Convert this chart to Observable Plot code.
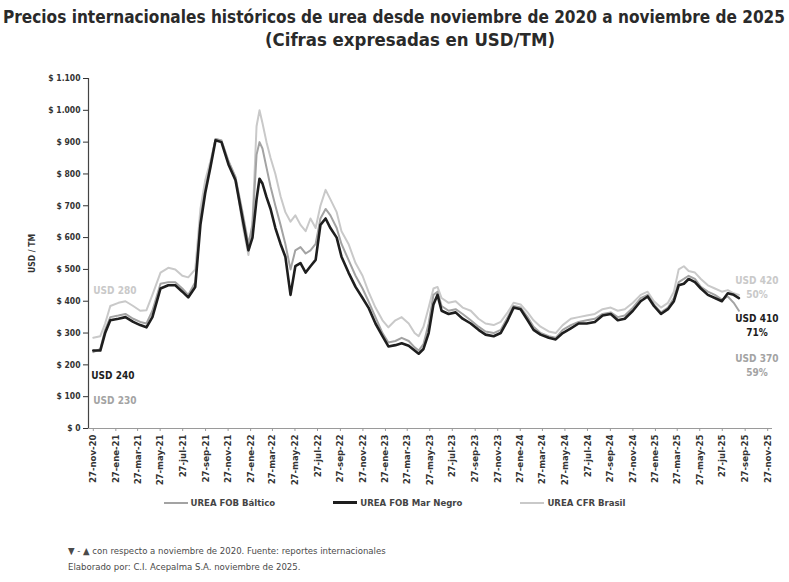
<!DOCTYPE html>
<html><head><meta charset="utf-8">
<script src="https://cdn.jsdelivr.net/npm/d3@7"></script>
<script src="https://cdn.jsdelivr.net/npm/@observablehq/plot@0.6"></script>
<style>
body{margin:0;width:789px;height:582px;overflow:hidden;background:#fff;position:relative;font-family:"Liberation Sans Narrow","DejaVu Sans Condensed","Liberation Sans",sans-serif;}
.abs{position:absolute;white-space:nowrap;}
#title{top:6px;left:394px;font-weight:bold;font-size:18px;line-height:22px;color:#2a2a2a;transform-origin:center;}
#subtitle{top:29px;left:410px;font-weight:bold;font-size:17px;line-height:22px;color:#2a2a2a;transform-origin:center;}
#chart{position:absolute;top:60px;left:0;}
#legend{top:497px;left:0;width:789px;display:flex;justify-content:center;gap:58px;font-size:9.5px;font-weight:bold;color:#444;}
#legend .item{display:flex;align-items:center;gap:3px;}
#legend .sw{width:24px;height:0;border-top-style:solid;}
#footer{top:543px;left:68px;font-size:9.5px;line-height:16px;color:#4a4a4a;}
</style></head><body>
<div id="title" class="abs"></div>
<div id="subtitle" class="abs"></div>
<div id="chart"></div>
<div id="legend" class="abs"></div>
<div id="footer" class="abs"></div>
<script>
const titulo = "Precios internacionales históricos de urea desde noviembre de 2020 a noviembre de 2025";
const subtitulo = "(Cifras expresadas en USD/TM)";
const notaFuente = "▼ - ▲ con respecto a noviembre de 2020. Fuente: reportes internacionales";
const notaElaborado = "Elaborado por: C.I. Acepalma S.A. noviembre de 2025.";
const ejeY = "USD / TM";

const fechas = ["2020-11-27","2020-12-16","2020-12-29","2021-01-12","2021-02-03","2021-02-22","2021-03-15","2021-04-03","2021-04-20","2021-05-06",
"2021-05-28","2021-06-18","2021-07-07","2021-07-26","2021-08-11","2021-08-30","2021-09-13","2021-09-26","2021-10-10","2021-10-24",
"2021-11-09","2021-11-28","2021-12-17","2022-01-05","2022-01-21","2022-02-01","2022-02-12","2022-02-20","2022-02-28","2022-03-11",
"2022-03-22","2022-04-04","2022-04-18","2022-05-01","2022-05-15","2022-05-28","2022-06-11","2022-06-25","2022-07-08","2022-07-22",
"2022-08-04","2022-08-18","2022-08-31","2022-09-17","2022-09-30","2022-10-19","2022-11-07","2022-11-26","2022-12-12","2022-12-31",
"2023-01-19","2023-02-04","2023-02-23","2023-03-12","2023-03-31","2023-04-16","2023-04-27","2023-05-10","2023-05-24","2023-06-06",
"2023-06-17","2023-06-28","2023-07-17","2023-08-05","2023-08-24","2023-09-15","2023-10-06","2023-10-25","2023-11-16","2023-12-05",
"2023-12-24","2024-01-09","2024-01-28","2024-02-16","2024-03-03","2024-03-22","2024-04-13","2024-05-02","2024-05-21","2024-06-12",
"2024-07-03","2024-07-25","2024-08-16","2024-09-06","2024-09-28","2024-10-17","2024-11-05","2024-11-27","2024-12-18","2025-01-06",
"2025-01-23","2025-02-11","2025-03-02","2025-03-18","2025-03-31","2025-04-14","2025-04-27","2025-05-14","2025-05-30","2025-06-18",
"2025-07-07","2025-07-26","2025-08-11","2025-08-27","2025-09-10"];

const marNegro = [245,245,300,340,345,350,335,325,318,350, 440,450,450,430,412,445,640,740,820,906, 900,830,780,660,560,600,720,785,770,727,
690,630,580,540,420,510,520,490,510,530, 640,660,630,600,540,490,445,410,380,330, 290,258,262,268,260,245,235,250,300,390,
420,370,360,365,345,330,310,295,290,300, 340,380,375,340,310,295,285,280,300,315, 330,330,335,355,360,340,345,370,400,415,
385,360,375,400,450,455,470,460,440,420, 410,400,425,420,410];

const baltico = [240,250,310,350,355,360,345,335,330,370, 455,460,460,440,420,460,660,750,830,910, 905,840,790,680,580,640,860,900,880,820,
760,700,640,580,500,560,570,550,560,580, 660,690,670,630,580,530,480,440,400,350, 300,270,275,285,275,255,245,265,330,420,
430,385,370,375,360,340,320,305,300,310, 350,385,380,350,320,300,290,285,310,325, 335,340,345,360,365,350,355,380,410,420,
390,365,380,410,460,470,480,470,445,430, 420,405,415,395,370];

const brasil = [285,290,330,385,395,400,385,370,372,420, 490,505,500,480,475,500,690,780,840,910, 905,840,790,640,545,650,950,1000,960,900,
850,800,730,680,650,670,640,620,660,630, 700,750,720,680,620,580,520,480,430,380, 340,318,340,350,330,300,290,320,380,440,
445,410,395,400,380,370,345,330,325,335, 365,395,390,365,340,320,305,300,325,345, 350,355,360,375,380,370,375,395,420,430,
400,380,395,430,500,510,495,490,470,450, 440,430,435,425,420];

const tickLabels = ["27-nov-20","27-ene-21","27-mar-21","27-may-21","27-jul-21","27-sep-21","27-nov-21","27-ene-22","27-mar-22","27-may-22",
"27-jul-22","27-sep-22","27-nov-22","27-ene-23","27-mar-23","27-may-23","27-jul-23","27-sep-23","27-nov-23","27-ene-24",
"27-mar-24","27-may-24","27-jul-24","27-sep-24","27-nov-24","27-ene-25","27-mar-25","27-may-25","27-jul-25","27-sep-25","27-nov-25"];
const yTicks = [0,100,200,300,400,500,600,700,800,900,1000,1100];

const etiquetasInicio = {brasil:"USD 280", marNegro:"USD 240", baltico:"USD 230"};
const etiquetasFin = {brasil:"USD 420\n50%", marNegro:"USD 410\n71%", baltico:"USD 370\n59%"};

const colores = {baltico:"#a3a3a3", marNegro:"#1e1e1e", brasil:"#c9c9c9"};
const series = [
  {key:"baltico", name:"UREA FOB Báltico", values:baltico},
  {key:"marNegro", name:"UREA FOB Mar Negro", values:marNegro},
  {key:"brasil", name:"UREA CFR Brasil", values:brasil}
];

const meses = ["ene","feb","mar","abr","may","jun","jul","ago","sep","oct","nov","dic"];
const parseLabel = s => { const [d,m,y] = s.split("-"); return new Date(Date.UTC(2000 + +y, meses.indexOf(m), +d)); };
const tickDates = tickLabels.map(parseLabel);
const labelByTime = new Map(tickDates.map((d,i)=>[+d, tickLabels[i]]));
const fmtY = v => v >= 1000 ? "$ " + d3.format(",")(v).replace(",", ".") : "$ " + v;

const rows = {};
series.forEach(s => { rows[s.key] = fechas.map((f,i)=>({date:new Date(f), value:s.values[i]})); });
const xStart = new Date("2020-11-14");
const fontFam = '"Liberation Sans Narrow","DejaVu Sans Condensed","Liberation Sans",sans-serif';

const first = k => [rows[k][0]];
const last = k => [rows[k][rows[k].length-1]];

const chart = Plot.plot({
  width:789, height:438, marginLeft:88, marginRight:17, marginTop:18, marginBottom:70,
  style:{fontFamily:fontFam, fontSize:"9px", color:"#333", background:"#fff"},
  x:{type:"utc", domain:[xStart, new Date("2025-12-10")]},
  y:{domain:[0,1100]},
  marks:[
    Plot.ruleY([0], {stroke:"#9a9a9a", strokeWidth:1}),
    Plot.axisX({ticks:tickDates, tickFormat:d=>labelByTime.get(+d), tickRotate:-90, tickSize:3, tickPadding:3, fontWeight:"bold", fontSize:9.5, stroke:"#999", fill:"#333", label:null}),
    Plot.axisY({ticks:yTicks, tickFormat:fmtY, tickSize:5, tickPadding:3, fontWeight:"bold", fontSize:8.5, fill:"#333", label:ejeY, labelAnchor:"center", labelOffset:60, labelArrow:"none"}),
    Plot.ruleX([xStart], {stroke:"#444", strokeWidth:1.2}),
    Plot.line(rows.brasil, {x:"date", y:"value", stroke:colores.brasil, strokeWidth:2}),
    Plot.line(rows.baltico, {x:"date", y:"value", stroke:colores.baltico, strokeWidth:2}),
    Plot.line(rows.marNegro, {x:"date", y:"value", stroke:colores.marNegro, strokeWidth:2.6}),
    Plot.text(first("brasil"), {x:"date", y:"value", text:()=>etiquetasInicio.brasil, textAnchor:"start", dx:0, dy:-47, fill:colores.brasil, fontWeight:"bold", fontSize:10}),
    Plot.text(first("marNegro"), {x:"date", y:"value", text:()=>etiquetasInicio.marNegro, textAnchor:"start", dx:-2, dy:25, fill:colores.marNegro, fontWeight:"bold", fontSize:10}),
    Plot.text(first("baltico"), {x:"date", y:"value", text:()=>etiquetasInicio.baltico, textAnchor:"start", dx:0, dy:49, fill:colores.baltico, fontWeight:"bold", fontSize:10}),
    Plot.text(last("brasil"), {x:"date", y:"value", text:()=>etiquetasFin.brasil, textAnchor:"middle", dx:18, dy:-8, lineHeight:1.4, fill:colores.brasil, fontWeight:"bold", fontSize:10}),
    Plot.text(last("marNegro"), {x:"date", y:"value", text:()=>etiquetasFin.marNegro, textAnchor:"middle", dx:18, dy:26, lineHeight:1.4, fill:colores.marNegro, fontWeight:"bold", fontSize:10}),
    Plot.text(last("baltico"), {x:"date", y:"value", text:()=>etiquetasFin.baltico, textAnchor:"middle", dx:18, dy:54, lineHeight:1.4, fill:colores.baltico, fontWeight:"bold", fontSize:10})
  ]
});
document.getElementById("chart").appendChild(chart);

function fitText(id, text, target){
  const el = document.getElementById(id);
  el.textContent = text;
  const w = el.getBoundingClientRect().width;
  el.style.transform = `translateX(-50%) scaleX(${target/w})`;
}
fitText("title", titulo, 782);
fitText("subtitle", subtitulo, 290);

const leg = document.getElementById("legend");
series.forEach(s => {
  const it = document.createElement("div"); it.className = "item";
  const sw = document.createElement("span"); sw.className = "sw";
  sw.style.borderTopColor = colores[s.key]; sw.style.borderTopWidth = s.key==="marNegro" ? "3px" : "2.5px";
  const tx = document.createElement("span"); tx.textContent = s.name;
  it.appendChild(sw); it.appendChild(tx); leg.appendChild(it);
});
const foot = document.getElementById("footer");
[notaFuente, notaElaborado].forEach(t => { const d = document.createElement("div"); d.textContent = t; foot.appendChild(d); });
</script>
</body></html>
